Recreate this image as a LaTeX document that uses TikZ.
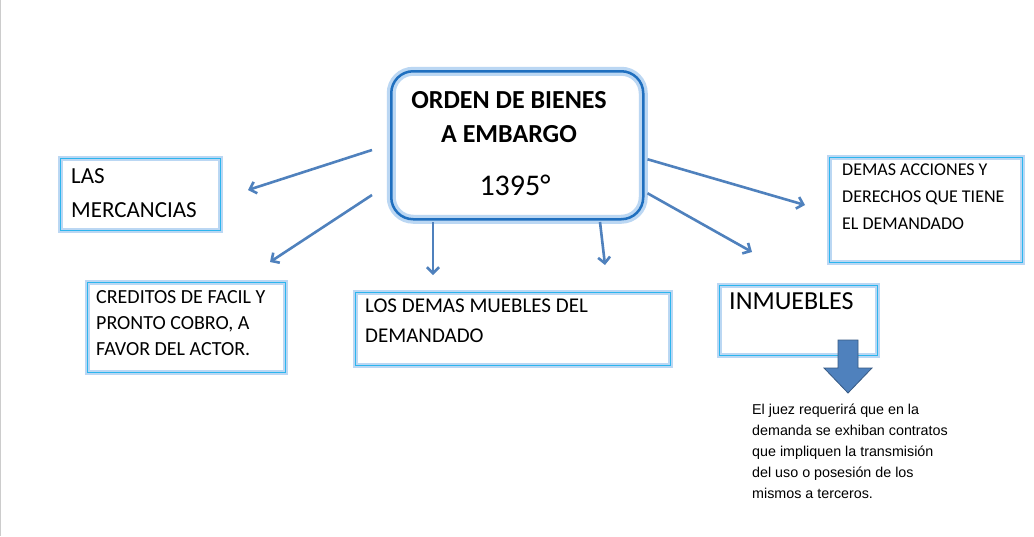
\documentclass[tikz,border=0pt]{standalone}
\usepackage{fontspec}
\usetikzlibrary{arrows.meta}
\setmainfont{Carlito}
\newfontfamily\arialf{Liberation Sans}
\definecolor{arr}{HTML}{4F81BD}
\definecolor{cdark}{HTML}{1F6FBF}
\definecolor{glow}{HTML}{BBD7F3}
\definecolor{cyanb}{HTML}{2CB5EE}
\begin{document}
\begin{tikzpicture}[x=1pt,y=-1pt,
  rbox/.style={draw=cyanb,line width=1.2pt,anchor=north west,inner sep=0pt,
    preaction={draw=glow,line width=5pt}},
  lbl/.style={anchor=north west,align=left,inner sep=0pt,text=black},
  con/.style={draw=arr,line width=2.6pt,-{Straight Barb[length=6pt,width=12pt]}}]
\useasboundingbox (0,0) rectangle (1034,536);
\fill[white] (0,0) rectangle (1034,536);
\draw[gray!40] (0,0) -- (0,536);
% central
\node[draw=cdark,line width=2.5pt,rounded corners=22pt,minimum width=252pt,minimum height=148pt,
  anchor=north west,preaction={draw=glow,line width=9pt,rounded corners=22pt}] (c) at (390,70) {};
\node[font=\fontsize{26}{34}\selectfont\bfseries,align=center] (t) at (509,117) {ORDEN DE BIENES\\A EMBARGO};
\node[font=\fontsize{30}{34}\selectfont] (n) at (515,185) {1395°};
% boxes
\node[rbox,minimum width=160pt,minimum height=72pt] (b1) at (60,158) {};
\node[lbl,font=\fontsize{23}{34}\selectfont] (l1) at (71,168) {LAS\\MERCANCIAS};
\node[rbox,minimum width=198pt,minimum height=90pt] (b2) at (87,282) {};
\node[lbl,font=\fontsize{20}{26}\selectfont] (l2) at (96,290) {CREDITOS DE FACIL Y\\PRONTO COBRO, A\\FAVOR DEL ACTOR.};
\node[rbox,minimum width=315pt,minimum height=73pt] (b3) at (355,292) {};
\node[lbl,font=\fontsize{21}{30}\selectfont] (l3) at (365,299) {LOS DEMAS MUEBLES DEL\\DEMANDADO};
\node[rbox,minimum width=158pt,minimum height=70pt] (b4) at (719,285) {};
\node[lbl,font=\fontsize{26}{30}\selectfont] (l4) at (729,292) {INMUEBLES};
\node[rbox,minimum width=193pt,minimum height=105pt] (b5) at (829,157) {};
\node[lbl,font=\fontsize{18}{27}\selectfont] (l5) at (842,164) {DEMAS ACCIONES Y\\DERECHOS QUE TIENE\\EL DEMANDADO};
% arrows
\coordinate (e1) at (248,190); \coordinate (e2) at (270,262);
\coordinate (e3) at (433,275); \coordinate (e4) at (605,265);
\coordinate (e5) at (805,205); \coordinate (e6) at (752,252);
\draw[con] ([shift={(-18,80)}]c.north west) -- (e1);
\draw[con] ([shift={(-18,125)}]c.north west) -- (e2);
\draw[con] ([shift={(43,152)}]c.north west) -- (e3);
\draw[con] ([shift={(210,152)}]c.north west) -- (e4);
\draw[con] ([shift={(3,14)}]c.east) -- (e5);
\draw[con] ([shift={(3,48)}]c.east) -- (e6);
% block arrow
\draw[draw=arr!70!black,fill=arr,line width=0.8pt] (838,340) -- (858,340) -- (858,368) -- (872,368) -- (848,393) -- (824,368) -- (838,368) -- cycle;
\node[lbl,font=\arialf\fontsize{14.3}{21}\selectfont] (txt) at (752,404) {El juez requerirá que en la\\demanda se exhiban contratos\\que impliquen la transmisión\\del uso o posesión de los\\mismos a terceros.};
\end{tikzpicture}
\end{document}
